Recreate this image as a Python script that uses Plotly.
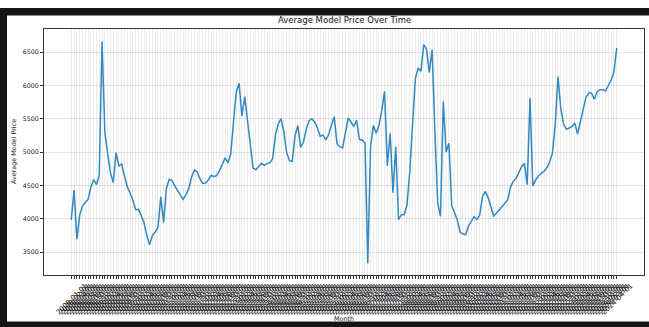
import plotly.graph_objects as go

# Monthly average model price
start_year = 2008
n_months = 196
months = [f"{start_year + m // 12}-{m % 12 + 1:02d}-01" for m in range(n_months)]

avg_price = [
    3980, 4430, 3690, 4050, 4190, 4240, 4290, 4470, 4585, 4510,
    4650, 6660, 5300, 4980, 4690, 4540, 4990, 4790, 4820, 4640,
    4480, 4390, 4280, 4135, 4140, 4050, 3940, 3750, 3610, 3750,
    3800, 3870, 4330, 3940, 4450, 4590, 4570, 4490, 4420, 4360,
    4290, 4360, 4450, 4620, 4730, 4700, 4600, 4530, 4535, 4580,
    4650, 4630, 4650, 4720, 4810, 4910, 4840, 4970, 5450, 5900,
    6030, 5540, 5830, 5500, 5110, 4760, 4735, 4780, 4830, 4800,
    4830, 4840, 4900, 5260, 5420, 5500, 5300, 4990, 4870, 4860,
    5250, 5400, 5070, 5150, 5340, 5470, 5500, 5450, 5360, 5235,
    5255, 5180, 5260, 5400, 5530, 5120, 5080, 5060, 5300, 5510,
    5450, 5380, 5480, 5190, 5180, 5135, 3330, 5085, 5400, 5280,
    5400, 5620, 5910, 4790, 5280, 4390, 5080, 3985, 4060, 4060,
    4200, 4700, 5400, 6100, 6260, 6210, 6610, 6540, 6190, 6535,
    5300, 4235, 4035, 5760, 5000, 5130, 4200, 4080, 3980, 3800,
    3770, 3760, 3890, 3960, 4030, 3990, 4050, 4330, 4410, 4320,
    4190, 4040, 4080, 4130, 4180, 4235, 4280, 4470, 4560, 4600,
    4680, 4780, 4830, 4510, 5810, 4490, 4580, 4640, 4680, 4710,
    4760, 4850, 4980, 5400, 6130, 5650, 5420, 5340, 5360, 5380,
    5435, 5270, 5450, 5660, 5820, 5885, 5885, 5790, 5900, 5935,
    5935, 5915, 5990, 6080, 6200, 6560,
]

y_ticks = [3500, 4000, 4500, 5000, 5500, 6000, 6500]

FONT = "DejaVu Sans"
AXIS_COLOR = "#333333"
GRID_COLOR = "rgba(0,0,0,0.075)"

fig = go.Figure()
fig.add_trace(go.Scatter(
    x=months, y=avg_price, mode="lines",
    line=dict(color="#3288c0", width=1.5),
    hoverinfo="x+y",
))

pad = 0.05 * (n_months - 1)
fig.update_xaxes(
    type="category",
    range=[-pad, n_months - 1 + pad],
    tickmode="array", tickvals=months, ticktext=months,
    tickangle=-45, ticklabelshift=14,
    tickfont=dict(family=FONT, size=7.0, color="#111111"),
    ticks="outside", ticklen=3, tickwidth=0.6, tickcolor=AXIS_COLOR,
    showgrid=True, gridcolor=GRID_COLOR, gridwidth=0.7,
    showline=True, linecolor=AXIS_COLOR, linewidth=0.9, mirror=True,
    zeroline=False, automargin=False,
)
fig.update_yaxes(
    range=[3155, 6845],
    tickmode="array", tickvals=y_ticks,
    tickfont=dict(family=FONT, size=6.3, color="#222222"),
    ticks="outside", ticklen=3, tickwidth=0.6, tickcolor=AXIS_COLOR,
    showgrid=True, gridcolor="rgba(0,0,0,0.1)", gridwidth=0.7,
    showline=True, linecolor=AXIS_COLOR, linewidth=0.9, mirror=True,
    zeroline=False, automargin=False,
)

# plot box: x 44..644 px, y 29..275 px
PX_L, PX_W, PX_T, PX_H = 44, 600, 29, 246


def px(xp):
    return (xp - PX_L) / PX_W


def py(yp):
    return (PX_T + PX_H - yp) / PX_H


annotations = [
    dict(text="Average Model Price Over Time", x=px(344), y=py(20),
         font=dict(family=FONT, size=8.5, color="#111111")),
    dict(text="Average Model Price", x=px(14), y=py(152), textangle=-90,
         font=dict(family=FONT, size=6.4, color="#222222")),
    dict(text="Month", x=px(344), y=py(319),
         font=dict(family=FONT, size=6.4, color="#222222")),
]
for a in annotations:
    a.update(xref="paper", yref="paper", showarrow=False,
             xanchor="center", yanchor="middle")

# dark window frame around the figure
frame = dict(type="rect", xref="paper", yref="paper", line=dict(width=0),
             fillcolor="#151515", layer="above")
shapes = [
    dict(frame, x0=px(-5), x1=px(660), y0=py(15.5), y1=py(8)),
    dict(frame, x0=px(-5), x1=px(7), y0=py(340), y1=py(8)),
    dict(frame, x0=px(-5), x1=px(660), y0=py(340), y1=py(321.5)),
]

fig.update_layout(
    width=649, height=327,
    margin=dict(l=PX_L, r=649 - PX_L - PX_W, t=PX_T, b=327 - PX_T - PX_H),
    paper_bgcolor="white", plot_bgcolor="white",
    showlegend=False,
    annotations=annotations,
    shapes=shapes,
)

fig.write_html("out.html", config={"displayModeBar": False})
